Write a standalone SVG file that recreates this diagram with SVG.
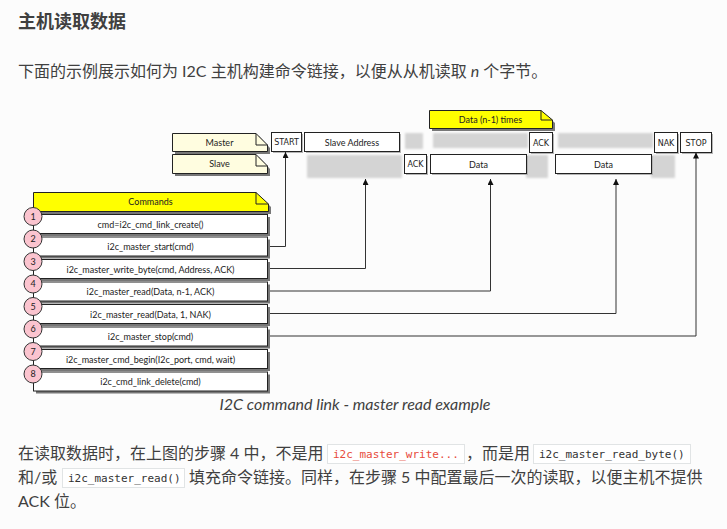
<svg xmlns="http://www.w3.org/2000/svg" width="727" height="529" viewBox="0 0 727 529">
<defs>
<style>
.page{font-family:Lato,"Noto Sans CJK SC",sans-serif;fill:#404040}
.h{font-size:18px;font-weight:bold}
.p{font-size:16px}
.cap{font-size:16px;font-style:italic;text-anchor:middle}
.code{font-family:"DejaVu Sans Mono",monospace;font-size:11px;fill:#333}
.red{fill:#e74c3c}
.codebox{fill:#fff;stroke:#e1e4e5;stroke-width:1}
.box{fill:#fff;stroke:#222;stroke-width:1}
.lbl{font-family:Lato,sans-serif;font-size:9px;fill:#222;text-anchor:middle}
.sm{font-family:"DejaVu Sans",sans-serif;font-size:8px;fill:#222;text-anchor:middle}
.ghost{fill:#d4d4d4;filter:url(#blur)}
.shd{fill:#777;filter:url(#blur1)}
.shl{fill:#b5b5b5;filter:url(#blur1)}
.note{fill:#fffde0;stroke:#222;stroke-width:1}
.ynote{fill:#ffff00;stroke:#222;stroke-width:1}
.fold{fill:none;stroke:#222;stroke-width:1}
.num{fill:#fbc4cf;stroke:#333;stroke-width:1}
.conn{fill:none;stroke:#333;stroke-width:1;marker-end:url(#arr)}
</style>
<filter id="blur" x="-30%" y="-30%" width="160%" height="160%"><feGaussianBlur stdDeviation="1"/></filter>
<filter id="blur1" x="-30%" y="-30%" width="160%" height="160%"><feGaussianBlur stdDeviation="0.6"/></filter>
<marker id="arr" markerUnits="userSpaceOnUse" markerWidth="6" markerHeight="6" refX="6" refY="3" orient="auto"><path d="M0,0 L6,3 L0,6 z" fill="#111"/></marker>
</defs>
<rect x="0" y="0" width="727" height="529" fill="#fcfcfc"/>

<g id="page-text" class="page">
<text class="h" x="18" y="28">主机读取数据</text>
<text class="p" x="18" y="77">下面的示例展示如何为 I2C 主机构建命令链接，以便从从机读取 <tspan font-style="italic">n</tspan> 个字节。</text>
<text class="cap" x="355" y="410">I2C command link - master read example</text>
<text class="p" x="18" y="459">在读取数据时，在上图的步骤 4 中，不是用</text>
<rect class="codebox" x="327.5" y="444.5" width="137" height="19"/>
<text class="code red" x="333" y="458">i2c_master_write...</text>
<text class="p" x="466" y="459">，而是用</text>
<rect class="codebox" x="533.5" y="444.5" width="157" height="19"/>
<text class="code" x="539" y="458">i2c_master_read_byte()</text>
<text class="p" x="18" y="483">和/或</text>
<rect class="codebox" x="62.5" y="468.5" width="122" height="19"/>
<text class="code" x="68" y="482">i2c_master_read()</text>
<text class="p" x="189" y="483">填充命令链接。同样，在步骤 5 中配置最后一次的读取，以便主机不提供</text>
<text class="p" x="18" y="507">ACK 位。</text>
</g>

<g id="ghosts">
<rect class="ghost" x="405" y="133" width="18" height="16"/>
<rect class="ghost" x="433" y="133" width="95" height="15"/>
<rect class="ghost" x="558" y="133" width="95" height="15"/>
<rect class="ghost" x="307" y="155" width="95" height="23"/>
<rect class="ghost" x="526" y="155" width="22" height="23"/>
<rect class="ghost" x="651" y="155" width="24" height="23"/>
</g>

<g id="note-master">
<path class="shd" d="M175,136 H259 L270,148 V154 H175 Z"/>
<path class="note" d="M172.5,133.5 H256 L267.5,145 V151.5 H172.5 Z"/>
<path class="fold" d="M256,133.5 V145 H267.5"/>
<text class="lbl" x="219.5" y="145.5">Master</text>
</g>
<g id="note-slave">
<path class="shd" d="M175,157 H259 L270,169 V176 H175 Z"/>
<path class="note" d="M172.5,154.5 H256 L267.5,166 V173.5 H172.5 Z"/>
<path class="fold" d="M256,154.5 V166 H267.5"/>
<text class="lbl" x="219.5" y="167">Slave</text>
</g>
<g id="note-data-times">
<path class="shd" d="M432,113 H544 L555,123 V131 H432 Z"/>
<path class="ynote" d="M429.5,110.5 H541 L552.5,120 V128.5 H429.5 Z"/>
<path class="fold" d="M541,110.5 V120 H552.5"/>
<text class="lbl" x="490.5" y="122.5">Data (n-1) times</text>
</g>

<g id="box-start"><rect class="shl" x="273" y="134" width="30" height="19"/><rect class="box" x="271.5" y="132.5" width="30" height="19"/><text class="sm" x="286.5" y="145">START</text></g>
<g id="box-slave-address"><rect class="shl" x="306" y="134" width="95" height="19"/><rect class="box" x="304.5" y="132.5" width="95" height="19"/><text class="lbl" x="352" y="145.5">Slave Address</text></g>
<g id="box-ack1"><rect class="shl" x="406" y="156" width="22" height="19"/><rect class="box" x="404.5" y="154.5" width="22" height="19"/><text class="sm" x="415.5" y="167">ACK</text></g>
<g id="box-data1"><rect class="shl" x="432" y="156" width="96" height="19"/><rect class="box" x="430.5" y="154.5" width="96" height="19"/><text class="lbl" x="478.5" y="167.5">Data</text></g>
<g id="box-ack2"><rect class="shl" x="531" y="134" width="23" height="20"/><rect class="box" x="529.5" y="132.5" width="23" height="20"/><text class="sm" x="541" y="145.5">ACK</text></g>
<g id="box-data2"><rect class="shl" x="557" y="156" width="96" height="19"/><rect class="box" x="555.5" y="154.5" width="96" height="19"/><text class="lbl" x="603.5" y="167.5">Data</text></g>
<g id="box-nak"><rect class="shl" x="656" y="134" width="23" height="20"/><rect class="box" x="654.5" y="132.5" width="23" height="20"/><text class="sm" x="666" y="145.5">NAK</text></g>
<g id="box-stop"><rect class="shl" x="682" y="134" width="31" height="20"/><rect class="box" x="680.5" y="132.5" width="31" height="20"/><text class="sm" x="696" y="145.5">STOP</text></g>

<g id="connectors">
<path class="conn" d="M267,246.5 H285.5 V152"/>
<path class="conn" d="M267,268.5 H365.5 V179"/>
<path class="conn" d="M267,291 H490.5 V179"/>
<path class="conn" d="M267,313.5 H616 V179"/>
<path class="conn" d="M267,336 H696 V152.5"/>
</g>

<g id="commands-header">
<path class="shd" d="M36,195 H259 L271,207 V214 H36 Z"/>
<path class="ynote" d="M33.5,192.5 H256 L268.5,204 V211.5 H33.5 Z"/>
<path class="fold" d="M256,192.5 V204 H268.5"/>
<text class="lbl" x="150.5" y="205">Commands</text>
</g>
<line x1="33.5" y1="211" x2="33.5" y2="391" stroke="#333" stroke-width="1"/>

<g id="cmd1"><rect class="shd" x="36" y="217" width="234" height="19"/><rect class="box" x="33.5" y="214.5" width="234" height="19"/><text class="lbl" x="150.5" y="227.5">cmd=i2c_cmd_link_create()</text><circle class="num" cx="33" cy="216.5" r="9"/><text class="lbl" x="33" y="219.5">1</text></g>
<g id="cmd2"><rect class="shd" x="36" y="239.5" width="234" height="19"/><rect class="box" x="33.5" y="237" width="234" height="19"/><text class="lbl" x="150.5" y="250">i2c_master_start(cmd)</text><circle class="num" cx="33" cy="239" r="9"/><text class="lbl" x="33" y="242">2</text></g>
<g id="cmd3"><rect class="shd" x="36" y="262" width="234" height="19"/><rect class="box" x="33.5" y="259.5" width="234" height="19"/><text class="lbl" x="150.5" y="272.5">i2c_master_write_byte(cmd, Address, ACK)</text><circle class="num" cx="33" cy="261.5" r="9"/><text class="lbl" x="33" y="264.5">3</text></g>
<g id="cmd4"><rect class="shd" x="36" y="284.5" width="234" height="19"/><rect class="box" x="33.5" y="282" width="234" height="19"/><text class="lbl" x="150.5" y="295">i2c_master_read(Data, n-1, ACK)</text><circle class="num" cx="33" cy="284" r="9"/><text class="lbl" x="33" y="287">4</text></g>
<g id="cmd5"><rect class="shd" x="36" y="307" width="234" height="19"/><rect class="box" x="33.5" y="304.5" width="234" height="19"/><text class="lbl" x="150.5" y="317.5">i2c_master_read(Data, 1, NAK)</text><circle class="num" cx="33" cy="306.5" r="9"/><text class="lbl" x="33" y="309.5">5</text></g>
<g id="cmd6"><rect class="shd" x="36" y="329.5" width="234" height="19"/><rect class="box" x="33.5" y="327" width="234" height="19"/><text class="lbl" x="150.5" y="340">i2c_master_stop(cmd)</text><circle class="num" cx="33" cy="329" r="9"/><text class="lbl" x="33" y="332">6</text></g>
<g id="cmd7"><rect class="shd" x="36" y="352" width="234" height="19"/><rect class="box" x="33.5" y="349.5" width="234" height="19"/><text class="lbl" x="150.5" y="362.5">i2c_master_cmd_begin(I2c_port, cmd, wait)</text><circle class="num" cx="33" cy="351.5" r="9"/><text class="lbl" x="33" y="354.5">7</text></g>
<g id="cmd8"><rect class="shd" x="36" y="374.5" width="234" height="19"/><rect class="box" x="33.5" y="372" width="234" height="19"/><text class="lbl" x="150.5" y="385">i2c_cmd_link_delete(cmd)</text><circle class="num" cx="33" cy="374" r="9"/><text class="lbl" x="33" y="377">8</text></g>
</svg>
